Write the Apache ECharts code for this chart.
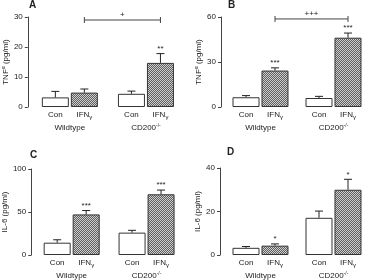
<!DOCTYPE html>
<html>
<head>
<meta charset="utf-8">
<script src="https://cdn.jsdelivr.net/npm/echarts@6/dist/echarts.min.js"></script>
<style>
  html, body { margin: 0; padding: 0; background: #fff; }
  #chart { width: 370px; height: 280px; }
</style>
</head>
<body>
<div id="chart"></div>
<script>
// groups and treatments
const groups = ['Wildtype', 'CD200-/-']
const treatments = ['Con', 'IFNγ']

// A: TNFα
const tnfA_con = [3.2, 4.4]
const tnfA_conSem = [2.0, 0.9]
const tnfA_ifn = [4.8, 14.7]
const tnfA_ifnSem = [1.2, 3.1]
const tnfA_stars = ['', '**']

// B: TNFα
const tnfB_con = [6.5, 6.0]
const tnfB_conSem = [1.1, 1.1]
const tnfB_ifn = [24.3, 46.2]
const tnfB_ifnSem = [1.8, 3.1]
const tnfB_stars = ['***', '***']

// C: IL-6
const il6C_con = [14.3, 26.0]
const il6C_conSem = [3.4, 2.7]
const il6C_ifn = [47.2, 70.6]
const il6C_ifnSem = [4.5, 4.9]
const il6C_stars = ['***', '***']

// D: IL-6
const il6D_con = [3.3, 17.1]
const il6D_conSem = [0.6, 3.1]
const il6D_ifn = [4.3, 30.0]
const il6D_ifnSem = [0.8, 4.8]
const il6D_stars = ['*', '*']

const FONT = 'Liberation Sans, Arial, sans-serif'
const BAR_W = 27
const SHIFT = 14.5 // half of bar width + gap
const INK = '#222'
const AXIS = '#444'

// grey crosshatch for the IFNγ bars
const pc = document.createElement('canvas')
pc.width = 2
pc.height = 2
const pctx = pc.getContext('2d')
pctx.fillStyle = '#5e5e5e'
pctx.fillRect(0, 0, 2, 2)
pctx.fillStyle = '#cfcfcf'
pctx.fillRect(0, 0, 1, 1)
pctx.fillRect(1, 1, 1, 1)

const panels = [
  { letter: 'A', grid: { left: 31, top: 17, width: 153, height: 90 }, offset: 4, max: 30, interval: 10,
    name: 'tnf', con: tnfA_con, conSem: tnfA_conSem, ifn: tnfA_ifn, ifnSem: tnfA_ifnSem, stars: tnfA_stars,
    bracket: 29, bracketText: '+', lx: 29, ly: 0 },
  { letter: 'B', grid: { left: 224, top: 17, width: 153, height: 90 }, offset: 3, max: 60, interval: 30,
    name: 'tnf', con: tnfB_con, conSem: tnfB_conSem, ifn: tnfB_ifn, ifnSem: tnfB_ifnSem, stars: tnfB_stars,
    bracket: 58.7, bracketText: '+++', lx: 228, ly: 0 },
  { letter: 'C', grid: { left: 31, top: 169, width: 153, height: 88 }, offset: 3, max: 100, interval: 50,
    name: 'il6', con: il6C_con, conSem: il6C_conSem, ifn: il6C_ifn, ifnSem: il6C_ifnSem, stars: il6C_stars,
    bracket: null, lx: 30, ly: 150 },
  { letter: 'D', grid: { left: 224, top: 168, width: 153, height: 89 }, offset: 4, max: 40, interval: 20,
    name: 'il6', con: il6D_con, conSem: il6D_conSem, ifn: il6D_ifn, ifnSem: il6D_ifnSem, stars: il6D_stars,
    bracket: null, lx: 227, ly: 147 },
]

function errRender(sems, stars, side) {
  return function (params, api) {
    const i = params.dataIndex
    const cat = api.value(0)
    const mean = api.value(1)
    const base = api.coord([cat, mean])
    const top = api.coord([cat, mean + sems[i]])
    const x = base[0] + side * SHIFT
    const kids = [
      { type: 'line', shape: { x1: x, y1: base[1], x2: x, y2: top[1] }, style: { stroke: INK, lineWidth: 1 } },
      { type: 'line', shape: { x1: x - 4, y1: top[1], x2: x + 4, y2: top[1] }, style: { stroke: INK, lineWidth: 1 } },
    ]
    if (stars && stars[i]) {
      kids.push({ type: 'text', x: x, y: top[1] - 1,
        style: { text: stars[i], font: '8px ' + FONT, fill: INK, align: 'center', verticalAlign: 'bottom' } })
    }
    return { type: 'group', children: kids }
  }
}

function bracketRender(label) {
  return function (params, api) {
    const y = api.value(1)
    const a = api.coord([0, y])
    const b = api.coord([1, y])
    const x1 = a[0] + SHIFT
    const x2 = b[0] + SHIFT
    const st = { stroke: '#444', lineWidth: 1 }
    return { type: 'group', children: [
      { type: 'line', shape: { x1: x1, y1: a[1], x2: x2, y2: a[1] }, style: st },
      { type: 'line', shape: { x1: x1, y1: a[1] - 3, x2: x1, y2: a[1] + 3 }, style: st },
      { type: 'line', shape: { x1: x2, y1: a[1] - 3, x2: x2, y2: a[1] + 3 }, style: st },
      { type: 'text', x: (x1 + x2) / 2, y: a[1] - 1,
        style: { text: label, font: '8px ' + FONT, fill: INK, align: 'center', verticalAlign: 'bottom' } },
    ] }
  }
}

const subRich = {
  a: { fontSize: 8, fontFamily: FONT, color: INK, verticalAlign: 'middle', lineHeight: 10 },
  s: { fontSize: 6, fontFamily: FONT, color: INK, verticalAlign: 'bottom', lineHeight: 10 },
  u: { fontSize: 5, fontFamily: FONT, color: INK, verticalAlign: 'top', lineHeight: 10 },
}

const option = {
  animation: false,
  backgroundColor: '#fff',
  textStyle: { fontFamily: FONT },
  title: [],
  grid: [],
  xAxis: [],
  yAxis: [],
  series: [],
}

panels.forEach(function (p, k) {
  option.title.push({ text: p.letter, left: p.lx, top: p.ly, padding: 0,
    textStyle: { fontSize: 10, fontWeight: 'bold', color: INK, fontFamily: FONT } })
  option.grid.push(p.grid)
  option.xAxis.push({
    type: 'category', gridIndex: k, data: groups,
    axisLine: { show: false }, axisTick: { show: false },
    axisLabel: { margin: 16, interval: 0, hideOverlap: false, rich: subRich,
      formatter: function (v) { return v === 'Wildtype' ? '{a|Wildtype}' : '{a|CD200}{u|-/-}' } },
  })
  option.yAxis.push({
    type: 'value', gridIndex: k, min: 0, max: p.max, interval: p.interval, offset: p.offset,
    axisLine: { show: true, lineStyle: { color: AXIS, width: 1 } },
    axisTick: { show: true, length: 3, lineStyle: { color: AXIS } },
    axisLabel: { fontSize: 8, color: INK, margin: 5 },
    splitLine: { show: false },
    name: p.name === 'tnf' ? '{a|TNF}{u|α}{a| (pg/ml)}' : '{a|IL-6 (pg/ml)}',
    nameLocation: 'middle', nameGap: 15,
    nameTextStyle: { rich: subRich },
  })
  option.series.push({
    type: 'bar', name: treatments[0], xAxisIndex: k, yAxisIndex: k, data: p.con,
    barWidth: BAR_W, barGap: '7.4%',
    itemStyle: { color: '#fff', borderColor: '#333', borderWidth: 1 },
    label: { show: true, position: 'bottom', distance: 3, rich: subRich, formatter: '{a|Con}' },
  })
  option.series.push({
    type: 'bar', name: treatments[1], xAxisIndex: k, yAxisIndex: k, data: p.ifn,
    barWidth: BAR_W, barGap: '7.4%',
    itemStyle: { color: { image: pc, repeat: 'repeat' }, borderColor: '#333', borderWidth: 1 },
    label: { show: true, position: 'bottom', distance: 3, rich: subRich, formatter: '{a|IFN}{s|γ}' },
  })
  option.series.push({
    type: 'custom', xAxisIndex: k, yAxisIndex: k, z: 3,
    data: p.con.map(function (v, i) { return [i, v] }),
    renderItem: errRender(p.conSem, null, -1),
  })
  option.series.push({
    type: 'custom', xAxisIndex: k, yAxisIndex: k, z: 3,
    data: p.ifn.map(function (v, i) { return [i, v] }),
    renderItem: errRender(p.ifnSem, p.stars, 1),
  })
  if (p.bracket !== null) {
    option.series.push({
      type: 'custom', xAxisIndex: k, yAxisIndex: k, z: 3,
      data: [[0, p.bracket]],
      renderItem: bracketRender(p.bracketText),
    })
  }
})

const myChart = echarts.init(document.getElementById('chart'))
myChart.setOption(option)
</script>
</body>
</html>
